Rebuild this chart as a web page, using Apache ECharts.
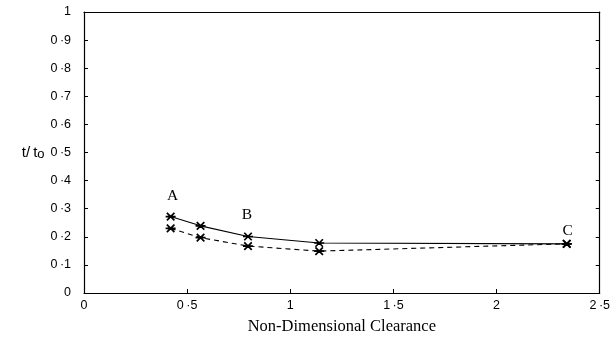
<!DOCTYPE html>
<html>
<head>
<meta charset="utf-8">
<script src="https://cdn.jsdelivr.net/npm/echarts@6/dist/echarts.min.js"></script>
<style>
  html, body { margin: 0; padding: 0; background: #fff; }
  #chart { width: 613px; height: 340px; }
</style>
</head>
<body>
<div id="chart"></div>
<script>
// Clearance values (x) and time ratios for both curves
const clearance = [0.42, 0.565, 0.795, 1.14, 2.34];
const solidRatio = [0.272, 0.239, 0.201, 0.178, 0.175];
const dashedRatio = [0.230, 0.197, 0.167, 0.149, 0.175];
// Point labels on the solid curve: index -> text
const pointLabels = { 0: 'A', 2: 'B', 4: 'C' };

const dot = v => String(v).replace('.', '\u2009\u00b7');
// asterisk marker: horizontal bar plus two diagonals
const star = 'path://M-1 0L1 0L-1 0ZM-0.75-0.75L0.75 0.75L-0.75-0.75ZM-0.75 0.75L0.75-0.75L-0.75 0.75Z';

const tickFont = { fontFamily: 'Liberation Sans', fontSize: 12.5, color: '#000' };
const serif = 'Liberation Serif';

const labelOffsets = { 0: [2, -2], 2: [-1, -3], 4: [1, 6] };

function series(vals, type, withLabels) {
  return {
    type: 'line',
    data: clearance.map((x, i) => {
      const item = { value: [x, vals[i]] };
      if (withLabels && pointLabels[i] !== undefined) {
        item.label = {
          show: true, position: 'top', distance: 6,
          offset: labelOffsets[i],
          formatter: pointLabels[i],
          fontFamily: serif, fontSize: 15.5, color: '#000'
        };
      }
      return item;
    }),
    symbol: star,
    symbolSize: 10,
    symbolKeepAspect: true,
    itemStyle: { color: '#000', borderColor: '#000', borderWidth: 1.7 },
    lineStyle: { color: '#000', width: 1.1, type: type, dashOffset: 0 },
    emphasis: { disabled: true },
    z: 3
  };
}

const frameAxisLine = { show: true, onZero: false, lineStyle: { color: '#000', width: 1.2 } };
const inTick = { show: true, inside: true, length: 4, lineStyle: { color: '#000' } };

const chart = echarts.init(document.getElementById('chart'), null, { renderer: 'canvas' });
chart.setOption({
  animation: false,
  backgroundColor: '#fff',
  grid: { left: 84, right: 10, top: 12, bottom: 45, containLabel: false },
  xAxis: [{
    type: 'value', min: 0, max: 2.5, interval: 0.5,
    name: 'Non-Dimensional Clearance', nameLocation: 'middle', nameGap: 25,
    nameTextStyle: { fontFamily: serif, fontSize: 16.5, color: '#000' },
    axisLine: frameAxisLine,
    axisTick: inTick,
    axisLabel: Object.assign({ formatter: v => dot(v), margin: 6 }, tickFont),
    splitLine: { show: false }
  }, {
    type: 'value', position: 'top', min: 0, max: 2.5, interval: 0.5,
    axisLine: frameAxisLine,
    axisTick: { show: false },
    axisLabel: { show: false }, splitLine: { show: false }
  }],
  yAxis: [{
    type: 'value', min: 0, max: 1, interval: 0.1,
    name: '{t|t/\u2009t}{s|o}', nameLocation: 'middle', nameGap: 28, nameRotate: 0,
    nameTextStyle: {
      rich: {
        t: { fontFamily: 'Liberation Sans', fontSize: 15, color: '#000' },
        s: { fontFamily: 'Liberation Sans', fontSize: 13, color: '#000', padding: [4, 0, 0, 0] }
      }
    },
    axisLine: frameAxisLine,
    axisTick: inTick,
    axisLabel: Object.assign({ formatter: v => dot(v), margin: 13 }, tickFont),
    splitLine: { show: false }
  }, {
    type: 'value', position: 'right', min: 0, max: 1, interval: 0.1,
    axisLine: frameAxisLine,
    axisTick: inTick,
    axisLabel: { show: false }, splitLine: { show: false }
  }],
  series: [series(solidRatio, 'solid', true), series(dashedRatio, [5, 4], false)]
});
</script>
</body>
</html>
